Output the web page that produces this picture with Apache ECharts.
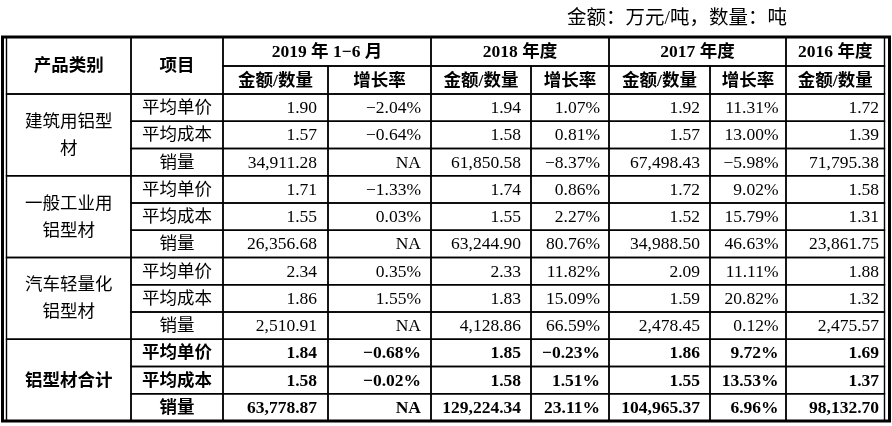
<!DOCTYPE html>
<html><head><meta charset="utf-8">
<script src="https://cdn.jsdelivr.net/npm/echarts@6/dist/echarts.min.js"></script>
<style>html,body{margin:0;padding:0;background:#fff}#c{width:892px;height:426px}</style>
</head><body><div id="c"></div>
<script>
// ---------- data ----------
const unitNote = '金额：万元/吨，数量：吨';
const headerLabels = ['产品类别', '项目'];
const periods = ['2019 年 1−6 月', '2018 年度', '2017 年度', '2016 年度'];
const subHeaders = ['金额/数量', '增长率'];
const categories = ['建筑用铝型材', '一般工业用铝型材', '汽车轻量化铝型材', '铝型材合计'];
const items = ['平均单价', '平均成本', '销量'];

const amount2019H1 = [1.90, 1.57, 34911.28, 1.71, 1.55, 26356.68, 2.34, 1.86, 2510.91, 1.84, 1.58, 63778.87];
const growth2019H1 = [-2.04, -0.64, null, -1.33, 0.03, null, 0.35, 1.55, null, -0.68, -0.02, null];
const amount2018 = [1.94, 1.58, 61850.58, 1.74, 1.55, 63244.90, 2.33, 1.83, 4128.86, 1.85, 1.58, 129224.34];
const growth2018 = [1.07, 0.81, -8.37, 0.86, 2.27, 80.76, 11.82, 15.09, 66.59, -0.23, 1.51, 23.11];
const amount2017 = [1.92, 1.57, 67498.43, 1.72, 1.52, 34988.50, 2.09, 1.59, 2478.45, 1.86, 1.55, 104965.37];
const growth2017 = [11.31, 13.00, -5.98, 9.02, 15.79, 46.63, 11.11, 20.82, 0.12, 9.72, 13.53, 6.96];
const amount2016 = [1.72, 1.39, 71795.38, 1.58, 1.31, 23861.75, 1.88, 1.32, 2475.57, 1.69, 1.37, 98132.70];

// ---------- layout (axis units) ----------
const colEdges = [6.5, 131, 223, 328, 431, 531, 609, 710, 786, 884.5];
const headerEdges = [37, 66, 94];
const bodyRowH = 27.25;
const rowEdges = headerEdges.concat(Array.from({length: 12}, (_, i) => 94 + (i + 1) * bodyRowH));
const rightPad = [11, 10, 10, 9, 10, 7.5, 5.5];

const valueCols = [
  {v: amount2019H1, g: false}, {v: growth2019H1, g: true},
  {v: amount2018, g: false}, {v: growth2018, g: true},
  {v: amount2017, g: false}, {v: growth2017, g: true},
  {v: amount2016, g: false}
];

function fmtAmount(v) {
  return v.toLocaleString('en-US', {minimumFractionDigits: 2, maximumFractionDigits: 2});
}
function fmtGrowth(v) {
  if (v === null) return 'NA';
  return (v < 0 ? '−' : '') + Math.abs(v).toFixed(2) + '%';
}

const cells = [];
function addCell(c0, c1, r0, r1, text, align, bold, extra) {
  cells.push(Object.assign({x0: colEdges[c0], x1: colEdges[c1], y0: rowEdges[r0], y1: rowEdges[r1], text, align, bold}, extra || {}));
}
// header
addCell(0, 1, 0, 2, headerLabels[0], 'center', true);
addCell(1, 2, 0, 2, headerLabels[1], 'center', true);
periods.forEach((p, i) => {
  const c0 = 2 + i * 2, c1 = Math.min(c0 + 2, 9);
  addCell(c0, c1, 0, 1, p, 'center', true);
});
for (let c = 2; c < 9; c++) addCell(c, c + 1, 1, 2, subHeaders[(c - 2) % 2], 'center', true);
// body
categories.forEach((cat, k) => {
  const bold = k === categories.length - 1;
  addCell(0, 1, 2 + k * 3, 5 + k * 3, cat, 'center', bold, {wrap: 90});
  items.forEach((it, j) => {
    const r = 2 + k * 3 + j;
    const idx = k * 3 + j;
    addCell(1, 2, r, r + 1, it, 'center', bold);
    valueCols.forEach((vc, ci) => {
      const val = vc.v[idx];
      const txt = vc.g ? fmtGrowth(val) : fmtAmount(val);
      addCell(2 + ci, 3 + ci, r, r + 1, txt, 'right', bold, {pad: rightPad[ci]});
    });
  });
});

const FONT_FAM = '"Liberation Serif", "Noto Sans CJK SC"';

function renderItem(params, api) {
  const c = cells[api.value(0)];
  const p0 = api.coord([c.x0, c.y0]);
  const p1 = api.coord([c.x1, c.y1]);
  const w = p1[0] - p0[0], h = p1[1] - p0[1];
  let tx = c.align === 'right' ? p1[0] - (c.pad || 8) : p0[0] + w / 2;
  const style = {
    text: c.text,
    x: tx,
    y: p0[1] + h / 2 + 1,
    align: c.align,
    verticalAlign: 'middle',
    font: (c.bold ? 'bold ' : '') + '17.5px ' + FONT_FAM,
    fill: '#000',
    lineHeight: 27
  };
  if (c.wrap) { style.width = c.wrap; style.overflow = 'break'; }
  return {
    type: 'group',
    children: [
      {type: 'rect', shape: {x: p0[0], y: p0[1], width: w, height: h},
       style: {fill: 'none', stroke: '#000', lineWidth: 1.4}},
      {type: 'text', style: style}
    ]
  };
}

const chart = echarts.init(document.getElementById('c'), null, {renderer: 'canvas'});
chart.setOption({
  animation: false,
  backgroundColor: '#fff',
  title: {
    text: unitNote, right: 100, top: 4,
    textStyle: {fontSize: 19.5, fontWeight: 'normal', color: '#000', fontFamily: FONT_FAM}
  },
  grid: {left: 0, right: 0, top: 0, bottom: 0},
  xAxis: {type: 'value', min: 0, max: 892, show: false},
  yAxis: {type: 'value', min: 0, max: 426, inverse: true, show: false},
  graphic: [{
    type: 'rect', shape: {x: 2.5, y: 37, width: 887, height: 384},
    style: {fill: 'none', stroke: '#000', lineWidth: 3}, z: 100
  }],
  series: [{
    type: 'custom',
    coordinateSystem: 'cartesian2d',
    renderItem: renderItem,
    clip: false,
    encode: {x: 0},
    data: cells.map((c, i) => [i])
  }]
});
</script></body></html>
